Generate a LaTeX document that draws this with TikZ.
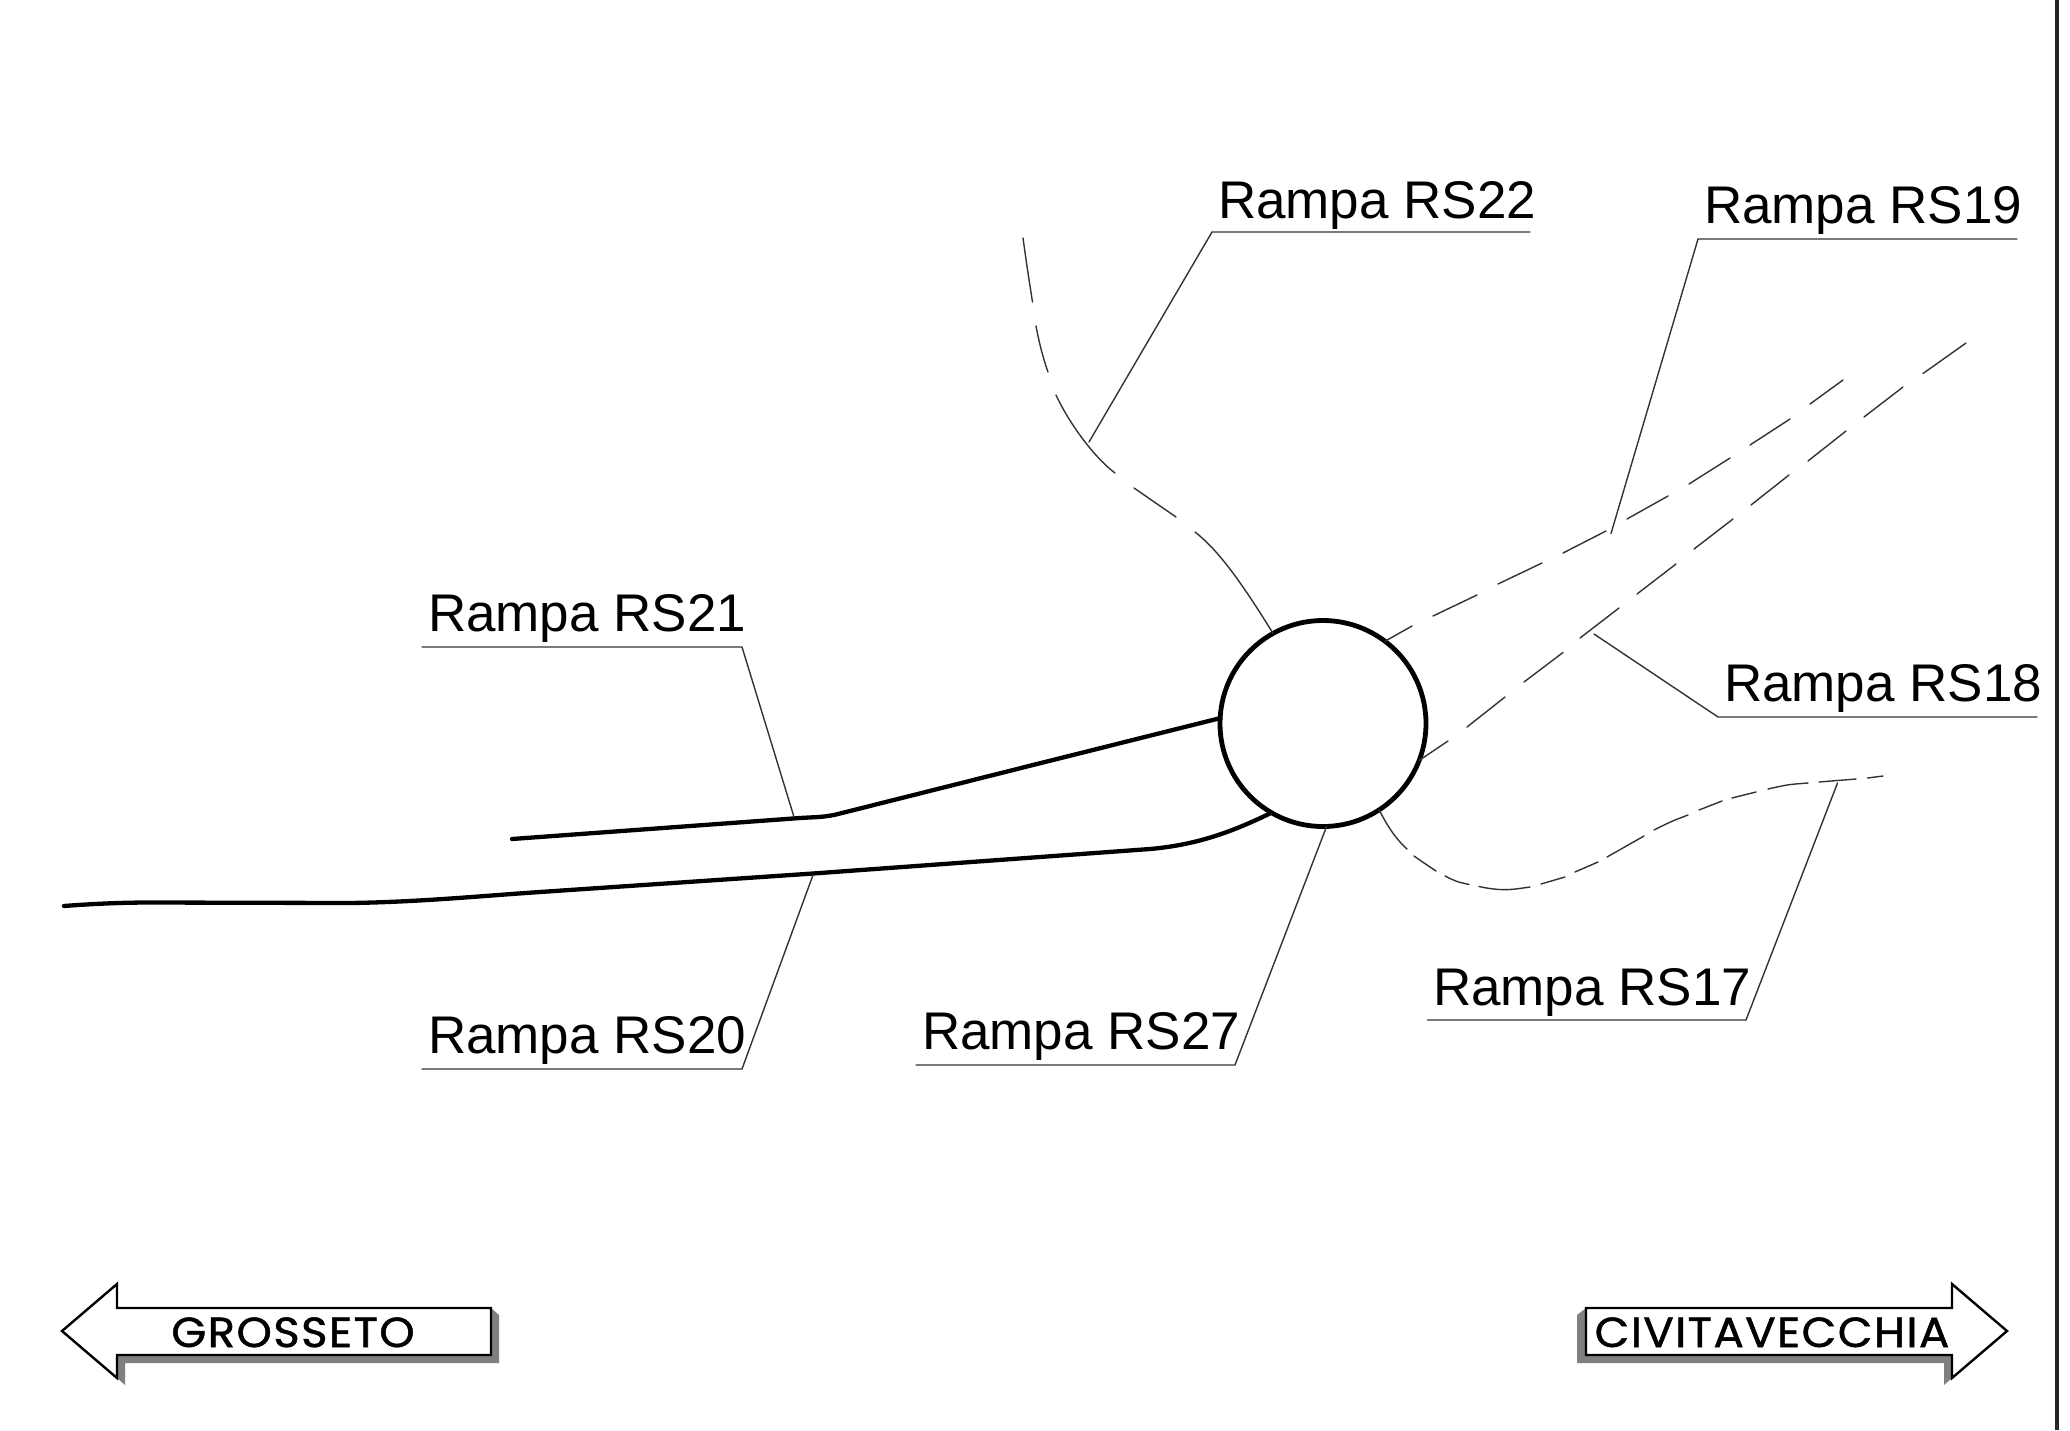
\documentclass[tikz,border=0pt]{standalone}
\usepackage{fontspec}
\setmainfont{Liberation Sans}
\newfontfamily\signfont[FakeBold=1.2,FakeStretch=1.07,LetterSpace=3.5]{Poppins}
\tikzset{
  lbl/.style={anchor=base west,inner sep=0pt,outer sep=0pt,font=\fontsize{53}{60}\selectfont},
  signtext/.style={anchor=base,inner sep=0pt,outer sep=0pt,font=\signfont\fontsize{42}{48}\selectfont},
  thinline/.style={line width=1.4pt,draw=black!80,line cap=round},
  road/.style={line width=4.3pt,line cap=round,line join=round},
  sign/.style={draw=black,line width=2.4pt,fill=white,line join=miter},
  shade/.style={fill=black!50,draw=none},
}
\begin{document}
\begin{tikzpicture}[x=1pt,y=-1pt]
\useasboundingbox (0,0) rectangle (2070,1430);
\fill[white] (0,0) rectangle (2070,1430);
% frame line
\draw[line width=3.5pt,draw=black!85] (2057,0) -- (2057,1430);
% roundabout
\node[circle,draw,fill=white,line width=4.8pt,minimum size=206pt,inner sep=0pt,outer sep=0pt] (rb) at (1323,723.5) {};
\coordinate (c22) at (rb.119.5);
\coordinate (c19) at (rb.53);
\coordinate (c18) at (rb.-21);
\coordinate (c17) at (rb.-57);
\coordinate (c21) at (rb.177);
\coordinate (c20) at (rb.-120.4);
\coordinate (c27) at (rb.-88);
% solid ramps
\draw[road] (512,839) -- (800,818) .. controls (815,817) and (825,817.5) .. (840,813.5) -- (1033,765) -- (c21);
\draw[road] (64,906) .. controls (90,904) and (120,902.5) .. (150,902.5) -- (350,903) .. controls (420,902) and (480,896) .. (540,892) -- (813,873.5) -- (1150,849) .. controls (1195,845) and (1230,833) .. (c20);
% RS22
\draw[thinline]
  (1023,238) .. controls (1026,260) and (1029,280) .. (1032.5,302)
  (1036,326) .. controls (1039,342) and (1043,358) .. (1048,372)
  (1056,395) .. controls (1070,425) and (1095,458) .. (1115,473)
  (1134,488) -- (1176,517)
  (1195,532) .. controls (1218,550) and (1240,580) .. (c22);
% RS19
\draw[thinline] (c19) -- (1412,626) (1433,616) -- (1477,595) (1498,584) -- (1542,563)
  (1563,553) -- (1606,531) (1627,519) -- (1668,496) (1689,484) -- (1730,458)
  (1750,445) -- (1790,419) (1810,404) -- (1843,380);
% RS18
\draw[thinline] (c18) -- (1448,741) (1467,727) -- (1505,697) (1524,682) -- (1563,652.5)
  (1580,638) -- (1619,608) (1637,594) -- (1676,564) (1694,549) -- (1733,519)
  (1751,505) -- (1789,475) (1808,461) -- (1846,431) (1864,417) -- (1903,387)
  (1923,373.5) -- (1966,343);
% RS17
\draw[thinline]
  (c17) .. controls (1389,829) and (1397,840) .. (1407,849)
  (1414,856) .. controls (1421,861) .. (1436,871)
  (1445,876) .. controls (1456,881.5) .. (1469,884.5)
  (1479,886.5) .. controls (1504,892) and (1515,889) .. (1530,887)
  (1541,884) .. controls (1553,881) .. (1565,877)
  (1575,872) .. controls (1587,867) .. (1598,862)
  (1607,857) .. controls (1626,846) .. (1644,836)
  (1654,830) .. controls (1671,821.5) .. (1688,815)
  (1699,810) .. controls (1711,805) .. (1722,801)
  (1732,798) .. controls (1744,794.5) .. (1756,792)
  (1768,789) .. controls (1788,784.5) .. (1808,783)
  (1819,782) .. controls (1838,780) .. (1856,779)
  (1867.5,778) -- (1883,776);
% labels
\node[lbl] (t22) at (1218,218) {Rampa RS22};
\node[lbl] (t19) at (1704,223) {Rampa RS19};
\node[lbl] (t18) at (1724,701) {Rampa RS18};
\node[lbl] (t17) at (1433,1005) {Rampa RS17};
\node[lbl] (t27) at (922,1049) {Rampa RS27};
\node[lbl] (t21) at (428,631) {Rampa RS21};
\node[lbl] (t20) at (428,1053) {Rampa RS20};
% leaders
\coordinate (a22) at (1089,442);
\coordinate (a19) at (1611,533.5);
\coordinate (a18) at (1594,634);
\coordinate (a17) at (1837.5,783);
\coordinate (a21) at (794,817);
\coordinate (a20) at (813,875);
\draw[thinline] (1530,232) -- (1212,232) -- (a22);
\draw[thinline] (2017,239) -- (1698,239) -- (a19);
\draw[thinline] (2037,717) -- (1718,717) -- (a18);
\draw[thinline] (1427.5,1020) -- (1746,1020) -- (a17);
\draw[thinline] (916,1065) -- (1235,1065) -- (c27);
\draw[thinline] (422,647) -- (742,647) -- (a21);
\draw[thinline] (422,1069) -- (742,1069) -- (a20);
% left sign
\fill[shade] (491,1308) -- (499,1315) -- (499,1363) -- (125,1363) -- (125,1385) -- (117,1378) -- (117,1355) -- (491,1355) -- cycle;
\draw[sign] (62,1331) -- (117,1284) -- (117,1308) -- (491,1308) -- (491,1355) -- (117,1355) -- (117,1378) -- cycle;
\node[signtext] (gr) at (293,1347) {GROSSETO};
% right sign
\fill[shade] (1586,1308) -- (1577,1315) -- (1577,1363) -- (1944,1363) -- (1944,1385) -- (1952,1378) -- (1952,1355) -- (1586,1355) -- cycle;
\draw[sign] (2007,1331) -- (1952,1284) -- (1952,1308) -- (1586,1308) -- (1586,1355) -- (1952,1355) -- (1952,1378) -- cycle;
\node[signtext] (cv) at (1772,1347) {CIVITAVECCHIA};
\end{tikzpicture}
\end{document}
